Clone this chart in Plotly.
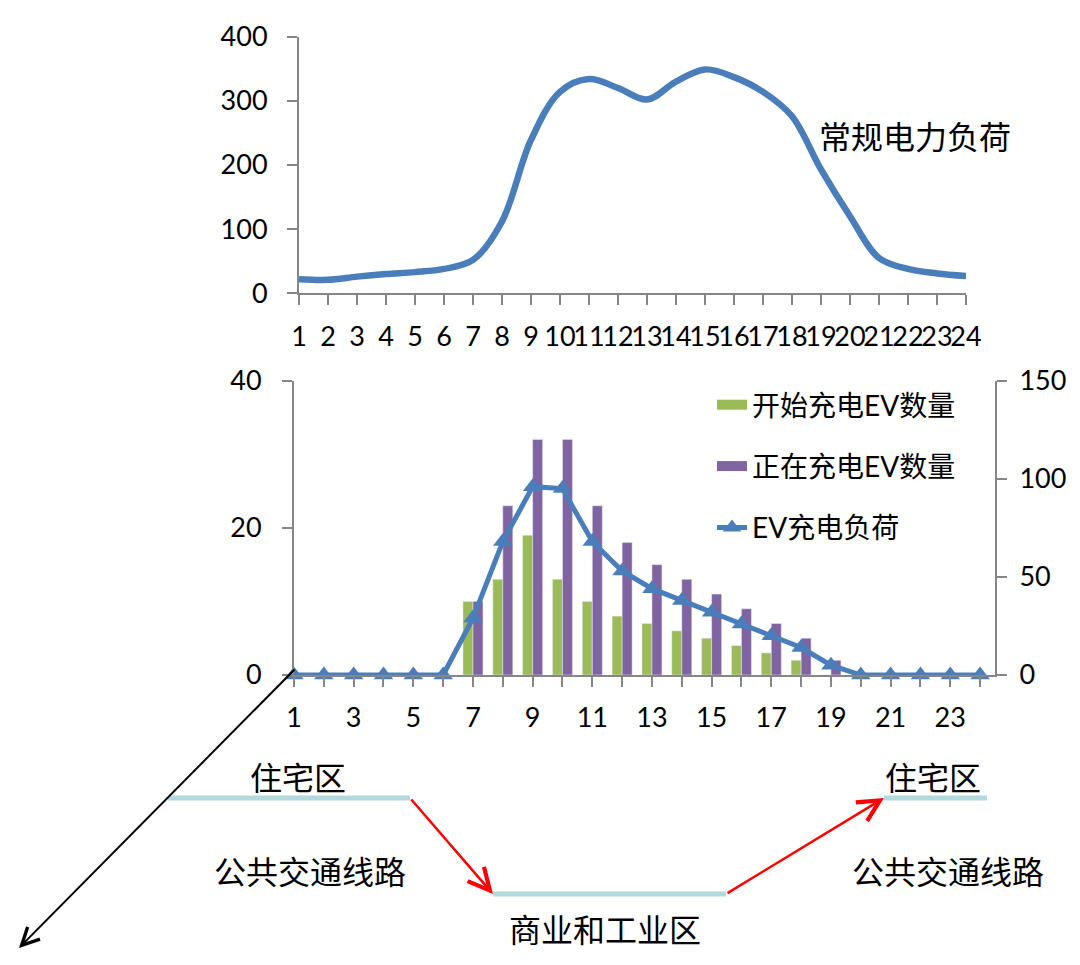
import plotly.graph_objects as go

# 时段 1..24
hours = list(range(1, 25))

# 常规电力负荷（上图）
base_load = [22, 21, 26, 30, 33, 38, 52, 112, 239, 314, 334, 320,
             302, 330, 349, 337, 314, 276, 193, 120, 55, 38, 31, 27]

# 下图：柱（左轴）和折线（右轴）
start_ev = [0, 0, 0, 0, 0, 0, 10, 13, 19, 13, 10, 8,
            7, 6, 5, 4, 3, 2, 0, 0, 0, 0, 0, 0]
charging_ev = [0, 0, 0, 0, 0, 0, 10, 23, 32, 32, 23, 18,
               15, 13, 11, 9, 7, 5, 2, 0, 0, 0, 0, 0]
ev_load = [0, 0, 0, 0, 0, 0, 29, 68, 96, 95, 68, 53,
           44, 38, 32, 26, 20, 14, 5, 0, 0, 0, 0, 0]

top_y_ticks = [0, 100, 200, 300, 400]
left_ticks = [0, 20, 40]
right_ticks = [0, 50, 100, 150]

BLUE = "#4A7EBB"
GREEN = "#9BBB59"
PURPLE = "#8064A2"
GREY = "#868686"
CYAN = "#B2D9DD"
LATIN = "Lato, 'Noto Sans CJK SC', sans-serif"
CJK = "'Noto Sans CJK SC', sans-serif"
TICK_FONT = dict(family=LATIN, size=27, color="black")

# page body has an 8px margin, so the figure is a bit smaller than the window
OFF = 8
W, H = 1080 - 2 * OFF, 965 - 2 * OFF


def dx(px):
    return (px - OFF) / W


def dy(px):
    return 1 - (px - OFF) / H


fig = go.Figure()

fig.add_trace(go.Scatter(x=hours, y=base_load, mode="lines", line=dict(color=BLUE, width=6.5, shape="spline"),
                         showlegend=False, xaxis="x", yaxis="y"))

fig.add_trace(go.Bar(x=hours, y=start_ev, marker_color=GREEN, name="开始充电EV数量",
                     showlegend=False, xaxis="x2", yaxis="y2"))
fig.add_trace(go.Bar(x=hours, y=charging_ev, marker_color=PURPLE, name="正在充电EV数量",
                     showlegend=False, xaxis="x2", yaxis="y2"))
fig.add_trace(go.Scatter(x=hours, y=ev_load, mode="lines+markers", name="EV充电负荷",
                         line=dict(color=BLUE, width=5), marker=dict(symbol="triangle-up", size=17, color=BLUE),
                         cliponaxis=False, showlegend=False, xaxis="x2", yaxis="y4"))

# legend entries (wide swatches for the bars)
fig.add_trace(go.Scatter(x=[None], y=[None], mode="lines", line=dict(color=GREEN, width=14),
                         name="开始充电EV数量", legendgroup="a", xaxis="x2", yaxis="y2"))
fig.add_trace(go.Scatter(x=[None], y=[None], mode="lines", line=dict(color=PURPLE, width=14),
                         name="正在充电EV数量", legendgroup="b", xaxis="x2", yaxis="y2"))
fig.add_trace(go.Scatter(x=[None], y=[None], mode="lines+markers", line=dict(color=BLUE, width=5),
                         marker=dict(symbol="triangle-up", size=17, color=BLUE),
                         name="EV充电负荷", legendgroup="c", xaxis="x2", yaxis="y4"))

axis_common = dict(showline=True, linecolor=GREY, linewidth=2, ticks="outside", tickcolor=GREY,
                   tickwidth=2, ticklen=10, showgrid=False, zeroline=False, tickfont=TICK_FONT,
                   tickangle=0, automargin=False)

fig.update_layout(
    width=W, height=H, margin=dict(l=0, r=0, t=0, b=0, autoexpand=False),
    paper_bgcolor="white", plot_bgcolor="rgba(0,0,0,0)",
    font=dict(family=CJK, color="black"),
    barmode="group", bargap=0.33, bargroupgap=0,
    xaxis=dict(domain=[dx(299), dx(966)], range=[1, 24], anchor="y",
               tickmode="array", tickvals=hours, ticktext=[str(h) for h in hours],
               ticklabelstandoff=8, **axis_common),
    yaxis=dict(domain=[dy(293.3), dy(36.7)], range=[0, 400], anchor="x",
               tickmode="array", tickvals=top_y_ticks, ticklabelstandoff=14, **axis_common),
    xaxis2=dict(domain=[dx(294), dx(995)], range=[1, 24.5], anchor="y2",
                tickmode="array", tickvals=hours, ticktext=[str(h) if h % 2 else "" for h in hours],
                ticklabelstandoff=8, **axis_common),
    yaxis2=dict(domain=[dy(675), dy(380.7)], range=[0, 40], anchor="x2",
                tickmode="array", tickvals=left_ticks, ticklabelstandoff=15, **axis_common),
    yaxis4=dict(range=[0, 150], overlaying="y2", side="right", anchor="x2",
                tickmode="array", tickvals=right_ticks, ticklabelstandoff=7, **axis_common),
    xaxis3=dict(domain=[0, 1], range=[OFF, OFF + W], visible=False, anchor="y3", automargin=False),
    yaxis3=dict(domain=[0, 1], range=[OFF + H, OFF], visible=False, anchor="x3", automargin=False),
    legend=dict(x=dx(712), y=dy(380), xanchor="left", yanchor="top",
                font=dict(family=LATIN, size=28, color="black"),
                traceorder="grouped", tracegroupgap=22, bgcolor="rgba(0,0,0,0)", itemwidth=30),
)

fig.add_annotation(text="常规电力负荷", x=915, y=135, xref="x3", yref="y3", showarrow=False,
                   font=dict(family=CJK, size=32, color="black"))

# schematic below the chart
for x0, x1, y in [(168, 410, 798), (493, 726, 894), (884, 987, 798)]:
    fig.add_shape(type="line", x0=x0, x1=x1, y0=y, y1=y, xref="x3", yref="y3",
                  line=dict(color=CYAN, width=5))

for tail, head, color, w in [((410, 798), (493, 894), "#FF0000", 2.5),
                             ((726, 894), (884, 798), "#FF0000", 2.5),
                             ((296, 668), (19, 948), "black", 2)]:
    fig.add_annotation(x=head[0], y=head[1], ax=tail[0], ay=tail[1], xref="x3", yref="y3",
                       axref="x3", ayref="y3", text="", showarrow=True, arrowhead=5,
                       arrowsize=1.7, arrowwidth=w, arrowcolor=color, standoff=0)

for label, x, y in [("住宅区", 298, 776), ("公共交通线路", 310, 870), ("商业和工业区", 605, 928),
                    ("住宅区", 933, 776), ("公共交通线路", 948, 870)]:
    fig.add_annotation(text=label, x=x, y=y, xref="x3", yref="y3", showarrow=False,
                       font=dict(family=CJK, size=32, color="black"))

fig.write_html("out.html")
